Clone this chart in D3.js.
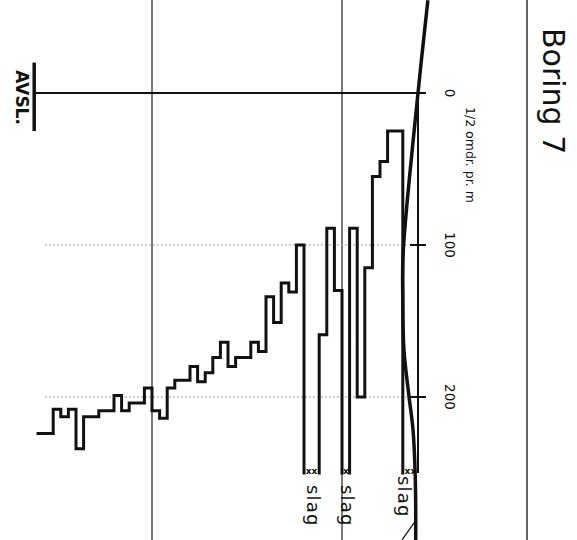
<!DOCTYPE html>
<html><head><meta charset="utf-8">
<script src="https://cdn.jsdelivr.net/npm/d3@7/dist/d3.min.js"></script>
<style>html,body{margin:0;padding:0;background:#fff;} svg{display:block;}</style>
</head><body>
<svg id="c" width="577" height="540"></svg>
<script>
// ---- data ----
const title = "Boring 7";
const axisLabel = "1/2 omdr. pr. m";
const endLabel = "AVSL.";
const slagLabel = "slag";
const valueTicks = [0, 100, 200];
const dottedValues = [100, 200];
const depthGrid = [2, 7];
const SLAG = 250;          // value drawn for hammered ("slag") intervals
const stepDepths = [0.0, 0.4, 0.8, 1.0, 1.2, 1.4, 1.6, 1.8, 2.0, 2.2, 2.4, 2.6, 3.0, 3.2, 3.4, 3.6, 3.8, 4.0, 4.2, 4.4,
                    4.8, 5.0, 5.2, 5.4, 5.6, 5.8, 6.0, 6.4, 6.6, 6.8, 7.0, 7.2, 7.6, 7.8, 8.0, 8.4, 8.8, 9.0, 9.2, 9.4, 9.6];
const stepEnd = 10.0;
const stepValues = [SLAG, 25, 45, 55, 115, 200, 89, SLAG, 130, 89, 159, SLAG, 100, 131, 125, 151, 134, 170, 164, 174,
                    180, 164, 174, 184, 190, 180, 189, 194, 214, 209, 194, 204, 209, 199, 209, 213, 234, 208, 213, 208, 224];
const slagLabelDepth = [0.4, 1.9, 2.8];
const curveDepth = [-0.26, 0.0, 0.39, 0.40, 0.37, 0.24, 0.13, 0.07, 0.06];
const curveValue = [-61, 0, 105, 136, 169, 199, 222, 255, 294];
const tailDepth = [0.08, 0.42];
const tailValue = [282, 294];

// ---- scales ----
const x = d3.scaleLinear().domain([0, 10]).range([418, 38]);   // depth (m), increasing to the left
const y = d3.scaleLinear().domain([0, 200]).range([93, 397]);  // half turns per m, increasing downward

const svg = d3.select("#c");
svg.append("rect").attr("width", 577).attr("height", 540).attr("fill", "#fff");

const ink = "#111";
const font = "DejaVu Sans, sans-serif";

// right border line
svg.append("line").attr("x1", 527).attr("x2", 527).attr("y1", 0).attr("y2", 540)
  .attr("stroke", "#222").attr("stroke-width", 1.4);

// vertical depth grid lines
svg.selectAll(".vg").data(depthGrid).join("line")
  .attr("x1", d => x(d)).attr("x2", d => x(d)).attr("y1", 0).attr("y2", 540)
  .attr("stroke", "#222").attr("stroke-width", 1.2);

// dotted value gridlines
svg.selectAll(".hg").data(dottedValues).join("line")
  .attr("x1", x(9.82)).attr("x2", x(0.3)).attr("y1", d => y(d)).attr("y2", d => y(d))
  .attr("stroke", "#999").attr("stroke-width", 1).attr("stroke-dasharray", "2,2");

// zero line (ground surface)
svg.append("line").attr("x1", x(10.1)).attr("x2", x(-0.18)).attr("y1", y(0)).attr("y2", y(0))
  .attr("stroke", ink).attr("stroke-width", 2.2);

// value axis
svg.append("line").attr("x1", x(0)).attr("x2", x(0)).attr("y1", y(0)).attr("y2", y(SLAG))
  .attr("stroke", ink).attr("stroke-width", 2);
svg.selectAll(".tk").data(valueTicks).join("line")
  .attr("x1", x(0) - 8).attr("x2", x(0) + 8).attr("y1", d => y(d)).attr("y2", d => y(d))
  .attr("stroke", ink).attr("stroke-width", 2);
svg.selectAll(".tl").data(valueTicks).join("text")
  .attr("transform", d => `translate(445,${y(d)}) rotate(90)`)
  .attr("text-anchor", "middle").attr("font-family", font).attr("font-size", 13.5)
  .attr("fill", ink).text(d => d);

// axis label
svg.append("text").attr("transform", "translate(466,107) rotate(90)")
  .attr("font-family", font).attr("font-size", 12.5).attr("fill", ink).text(axisLabel);

// title
svg.append("text").attr("transform", "translate(543,28) rotate(90)")
  .attr("font-family", font).attr("font-size", 30).attr("fill", ink).text(title);

// termination bar + label
svg.append("line").attr("x1", x(10.1)).attr("x2", x(10.1)).attr("y1", y(-20)).attr("y2", y(25))
  .attr("stroke", ink).attr("stroke-width", 3.5);
svg.append("text").attr("transform", `translate(16,${y(3)}) rotate(90)`)
  .attr("text-anchor", "middle").attr("font-family", font).attr("font-weight", "bold")
  .attr("font-size", 17).attr("fill", ink).text(endLabel);

// thick curve
const curveLine = d3.line().x(d => x(d[0])).y(d => y(d[1])).curve(d3.curveCatmullRom.alpha(0.5));
svg.append("path").datum(curveDepth.map((d, i) => [d, curveValue[i]]))
  .attr("d", curveLine).attr("fill", "none").attr("stroke", ink).attr("stroke-width", 3.5);
svg.append("path").datum(tailDepth.map((d, i) => [d, tailValue[i]]))
  .attr("d", d3.line().x(d => x(d[0])).y(d => y(d[1]))).attr("fill", "none")
  .attr("stroke", ink).attr("stroke-width", 1.2);

// step profile
const p = d3.path();
stepValues.forEach((v, i) => {
  const d0 = stepDepths[i], d1 = i + 1 < stepDepths.length ? stepDepths[i + 1] : stepEnd;
  if (i === 0) {
    if (v === SLAG) p.moveTo(x(d1), y(SLAG)); else { p.moveTo(x(d0), y(v)); p.lineTo(x(d1), y(v)); }
  } else {
    p.lineTo(x(d0), y(v));
    if (v === SLAG) p.moveTo(x(d1), y(SLAG)); else p.lineTo(x(d1), y(v));
  }
});
svg.append("path").attr("d", p.toString()).attr("fill", "none").attr("stroke", ink)
  .attr("stroke-width", 3).attr("stroke-linejoin", "miter").attr("stroke-linecap", "square");

// slag markers
const slagIdx = stepValues.map((v, i) => i).filter(i => stepValues[i] === SLAG);
slagIdx.forEach(i => {
  const d0 = stepDepths[i], d1 = stepDepths[i + 1];
  const w = Math.abs(x(d0) - x(d1));
  svg.append("text").attr("x", (x(d0) + x(d1)) / 2).attr("y", y(SLAG) + 1)
    .attr("text-anchor", "middle").attr("font-family", font).attr("font-weight", "bold")
    .attr("font-size", 9).attr("fill", ink).text(w > 10 ? "xx" : "x");
});
svg.selectAll(".sl").data(slagLabelDepth).join("text")
  .attr("transform", (d, i) => `translate(${x(d) - 5},${i === 0 ? 476 : 485}) rotate(90)`)
  .attr("font-family", font).attr("font-size", 18).attr("letter-spacing", 1.2)
  .attr("fill", ink).text(slagLabel);
</script>
</body></html>
